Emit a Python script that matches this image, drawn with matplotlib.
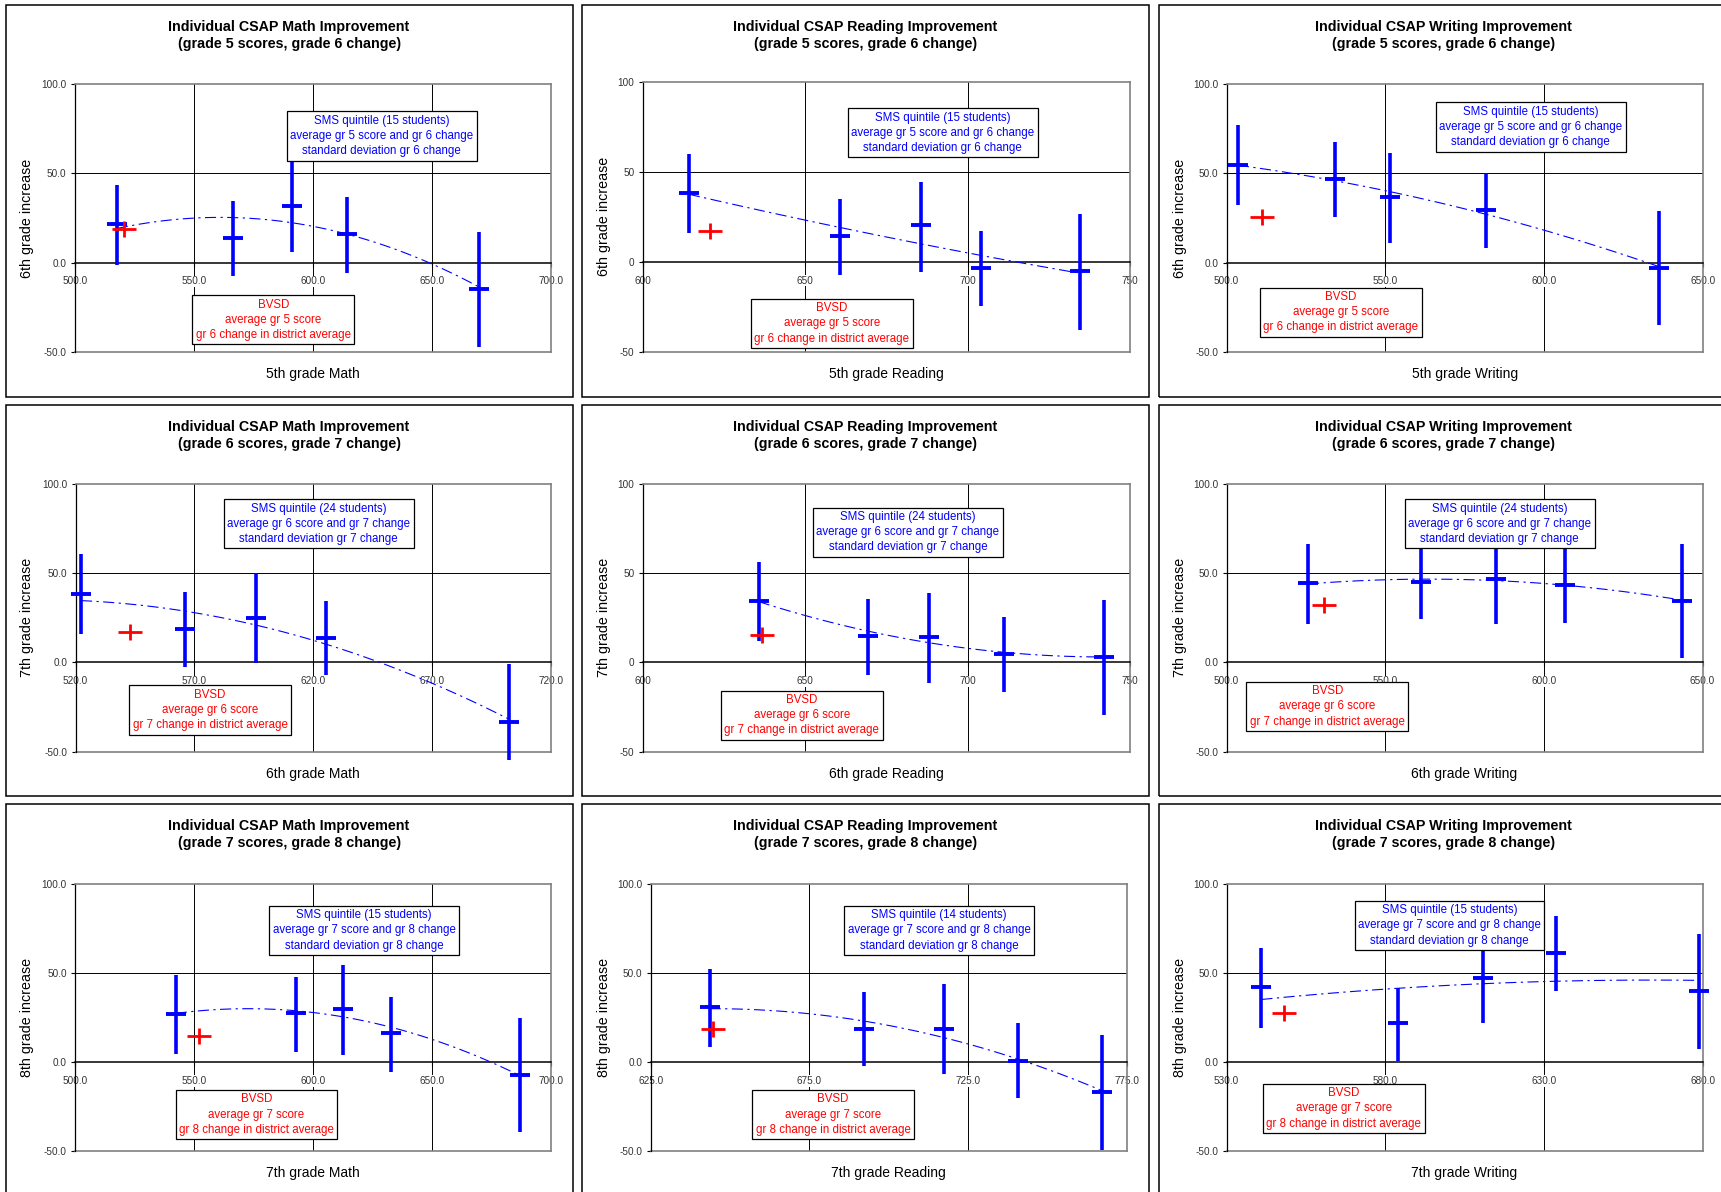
import numpy as np
import matplotlib.pyplot as plt
from matplotlib.patches import Rectangle
from matplotlib.ticker import FormatStrFormatter

plt.rcParams['font.family'] = ['Liberation Sans', 'DejaVu Sans']

# quintile average score (x), average change, sd bar top/bottom, district point
# Math, grade 5 scores -> grade 6 change
math5_x = [517.7, 566.5, 591.3, 614.3, 669.6]
math5_mean = [21.7, 14.0, 32.0, 16.1, -14.8]
math5_hi = [43.6, 34.4, 56.6, 36.8, 17.4]
math5_lo = [-1.3, -7.5, 6.2, -5.6, -47.1]
math5_bvsd = (520.7, 19.1)

read5_x = [614.2, 660.8, 685.7, 704.1, 734.4]
read5_mean = [38.1, 14.4, 20.2, -3.7, -5.2]
read5_hi = [60.0, 34.8, 44.6, 17.0, 26.7]
read5_lo = [15.9, -7.2, -5.4, -24.8, -37.8]
read5_bvsd = (620.7, 17.0)

write5_x = [503.6, 534.2, 551.3, 581.7, 636.1]
write5_mean = [55.0, 46.7, 36.6, 29.5, -2.8]
write5_hi = [77.0, 67.5, 61.3, 50.5, 29.2]
write5_lo = [32.3, 25.8, 11.2, 8.0, -35.3]
write5_bvsd = (511.1, 25.4)

# grade 6 scores -> grade 7 change
math6_x = [522.3, 565.9, 595.9, 625.4, 702.4]
math6_mean = [38.3, 18.9, 25.0, 13.6, -33.1]
math6_hi = [60.6, 39.6, 49.9, 34.4, -1.1]
math6_lo = [15.7, -2.4, -0.2, -7.1, -54.8]
math6_bvsd = (543.0, 16.8)

read6_x = [635.7, 669.4, 688.2, 711.3, 741.9]
read6_mean = [34.7, 14.6, 14.2, 4.9, 3.0]
read6_hi = [56.5, 35.4, 39.2, 25.7, 35.1]
read6_lo = [12.3, -6.9, -11.6, -16.6, -29.7]
read6_bvsd = (636.6, 15.5)

write6_x = [525.7, 561.2, 585.0, 606.8, 643.4]
write6_mean = [44.4, 45.3, 46.8, 43.5, 34.7]
write6_hi = [66.4, 66.3, 72.0, 65.0, 66.4]
write6_lo = [21.3, 24.3, 21.5, 22.0, 2.4]
write6_bvsd = (530.7, 32.1)

# grade 7 scores -> grade 8 change
math7_x = [542.3, 592.8, 612.5, 632.7, 686.9]
math7_mean = [27.1, 27.3, 29.7, 16.1, -7.3]
math7_hi = [49.0, 47.9, 54.6, 36.6, 24.5]
math7_lo = [4.5, 5.8, 3.9, -5.4, -39.6]
math7_bvsd = (551.9, 14.6)

read7_x = [643.5, 692.3, 717.5, 740.8, 767.4]
read7_mean = [30.7, 18.5, 18.5, 0.7, -16.8]
read7_hi = [52.3, 39.1, 43.6, 21.7, 15.0]
read7_lo = [8.2, -2.2, -6.9, -20.4, -49.3]
read7_bvsd = (644.7, 18.5)

write7_x = [541.0, 583.9, 610.7, 633.7, 678.8]
write7_mean = [41.9, 21.7, 46.9, 60.9, 39.8]
write7_hi = [64.1, 41.7, 72.0, 81.9, 71.6]
write7_lo = [19.3, 0.5, 21.7, 39.8, 7.5]
write7_bvsd = (548.0, 27.7)

subjects = ['Math', 'Reading', 'Writing']
grades = [5, 6, 7]
students = [[15, 15, 15], [24, 24, 24], [15, 14, 15]]
x_starts = [[500, 600, 500], [520, 600, 500], [500, 625, 530]]
x_counts = [5, 4, 4]   # number of x ticks per subject column
int_labels = [[False, True, False], [False, True, False], [False, False, False]]

series = [
    [(math5_x, math5_mean, math5_hi, math5_lo, math5_bvsd),
     (read5_x, read5_mean, read5_hi, read5_lo, read5_bvsd),
     (write5_x, write5_mean, write5_hi, write5_lo, write5_bvsd)],
    [(math6_x, math6_mean, math6_hi, math6_lo, math6_bvsd),
     (read6_x, read6_mean, read6_hi, read6_lo, read6_bvsd),
     (write6_x, write6_mean, write6_hi, write6_lo, write6_bvsd)],
    [(math7_x, math7_mean, math7_hi, math7_lo, math7_bvsd),
     (read7_x, read7_mean, read7_hi, read7_lo, read7_bvsd),
     (write7_x, write7_mean, write7_hi, write7_lo, write7_bvsd)],
]

# layout in pixels
W, H = 1721, 1192
panel_cols = [(5.5, 572.7), (582.4, 1148.8), (1158.6, 1728)]
panel_rows = [(5, 396.7), (404.7, 796), (804, 1200)]
plot_rects = [
    [(74.7, 551.2, 84.3, 351.7), (642.7, 1130.3, 82.0, 351.7), (1226.5, 1703.4, 84.3, 351.7)],
    [(75.5, 551.2, 484, 751.7), (642.7, 1130.3, 484, 751.7), (1226.5, 1702.6, 484, 751.7)],
    [(75.1, 551.2, 883.7, 1151), (650.9, 1126.6, 883.7, 1151), (1226.5, 1702.6, 883.7, 1151)],
]
sms_pos = [[(0.644, 0.807), (0.615, 0.812), (0.638, 0.840)],
           [(0.511, 0.851), (0.544, 0.820), (0.574, 0.851)],
           [(0.607, 0.825), (0.606, 0.825), (0.4685, 0.844)]]
bvsd_pos = [[(0.417, 0.119), (0.388, 0.105), (0.240, 0.148)],
            [(0.283, 0.156), (0.326, 0.136), (0.2115, 0.169)],
            [(0.381, 0.136), (0.383, 0.136), (0.246, 0.159)]]

fig = plt.figure(figsize=(W / 100, H / 100), dpi=100)


def fx(px):
    return px / W


def fy(py):
    return 1 - py / H


for r in range(3):
    g = grades[r]
    for c in range(3):
        subj = subjects[c]
        x, mean, hi, lo, bvsd = series[r][c]
        pl, pr = panel_cols[c]
        pt, pb = panel_rows[r]
        fig.add_artist(Rectangle((fx(pl), fy(pb)), fx(pr - pl), (pb - pt) / H,
                                 fill=False, edgecolor='black', lw=1.1,
                                 transform=fig.transFigure))
        fig.text(fx((pl + pr) / 2), fy(pt + 30.5),
                 f'Individual CSAP {subj} Improvement\n(grade {g} scores, grade {g + 1} change)',
                 ha='center', va='center', fontsize=10.3, fontweight='bold',
                 linespacing=1.3)

        l, rr, t, b = plot_rects[r][c]
        ax = fig.add_axes([fx(l), fy(b), fx(rr - l), (b - t) / H])
        x0 = x_starts[r][c]
        xt = [x0 + 50 * i for i in range(x_counts[c])]
        ax.set_xlim(xt[0], xt[-1])
        ax.set_ylim(-50, 100)
        ax.set_xticks(xt)
        ax.set_yticks([-50, 0, 50, 100])
        fmt = '%d' if int_labels[r][c] else '%.1f'
        ax.xaxis.set_major_formatter(FormatStrFormatter(fmt))
        ax.yaxis.set_major_formatter(FormatStrFormatter(fmt))
        ax.set_axisbelow(True)
        ax.grid(axis='x', color='black', lw=0.7)
        ax.axhline(50, color='black', lw=0.7, zorder=0.4)
        ax.axhline(-50, color='#808080', lw=1.2, zorder=2.5, clip_on=False)
        ax.spines['bottom'].set_position(('data', 0))
        ax.spines['bottom'].set_linewidth(1.1)
        ax.spines['left'].set_linewidth(0.9)
        for s in ('top', 'right'):
            ax.spines[s].set_color('#808080')
            ax.spines[s].set_linewidth(1.2)
        ax.tick_params(axis='both', direction='out', length=3, width=0.8,
                       labelsize=7.2, labelcolor='#333333', pad=3)
        ax.tick_params(axis='x', pad=7)
        for lbl in ax.get_xticklabels():
            lbl.set_bbox(dict(facecolor='white', edgecolor='none', pad=0.6))

        coef = np.polyfit(x, mean, 2)
        xs = np.linspace(x[0], x[-1], 120)
        ax.plot(xs, np.polyval(coef, xs), color='blue', lw=0.8,
                ls=(0, (10, 4, 2, 4)), zorder=3)
        ax.vlines(x, lo, hi, color='blue', lw=2.6, zorder=4, clip_on=False)
        ax.plot(x, mean, ls='none', marker='_', ms=15, mew=2.8, color='blue',
                zorder=4, clip_on=False)
        ax.plot(*bvsd, marker='_', ms=17, mew=2.0, color='red', zorder=5)
        ax.plot(*bvsd, marker='|', ms=11.5, mew=2.0, color='red', zorder=5)

        sx, sy = sms_pos[r][c]
        ax.text(sx, sy,
                f'SMS quintile ({students[r][c]} students)\n'
                f'average gr {g} score and gr {g + 1} change\n'
                f'standard deviation gr {g + 1} change',
                transform=ax.transAxes, ha='center', va='center', color='blue',
                fontsize=8.3, linespacing=1.35, zorder=6,
                bbox=dict(boxstyle='square,pad=0.3', facecolor='white',
                          edgecolor='black', lw=0.9))
        bx, by = bvsd_pos[r][c]
        ax.text(bx, by,
                f'BVSD\naverage gr {g} score\ngr {g + 1} change in district average',
                transform=ax.transAxes, ha='center', va='center', color='red',
                fontsize=8.3, linespacing=1.35, zorder=6,
                bbox=dict(boxstyle='square,pad=0.3', facecolor='white',
                          edgecolor='black', lw=0.9))

        fig.text(fx((l + rr) / 2), fy(b + 22), f'{g}th grade {subj}',
                 ha='center', va='center', fontsize=10)
        fig.text(fx(pl + 21.5), fy((t + b) / 2), f'{g + 1}th grade increase',
                 ha='center', va='center', rotation=90, fontsize=10.3)

fig.savefig('out.png', dpi=100)
